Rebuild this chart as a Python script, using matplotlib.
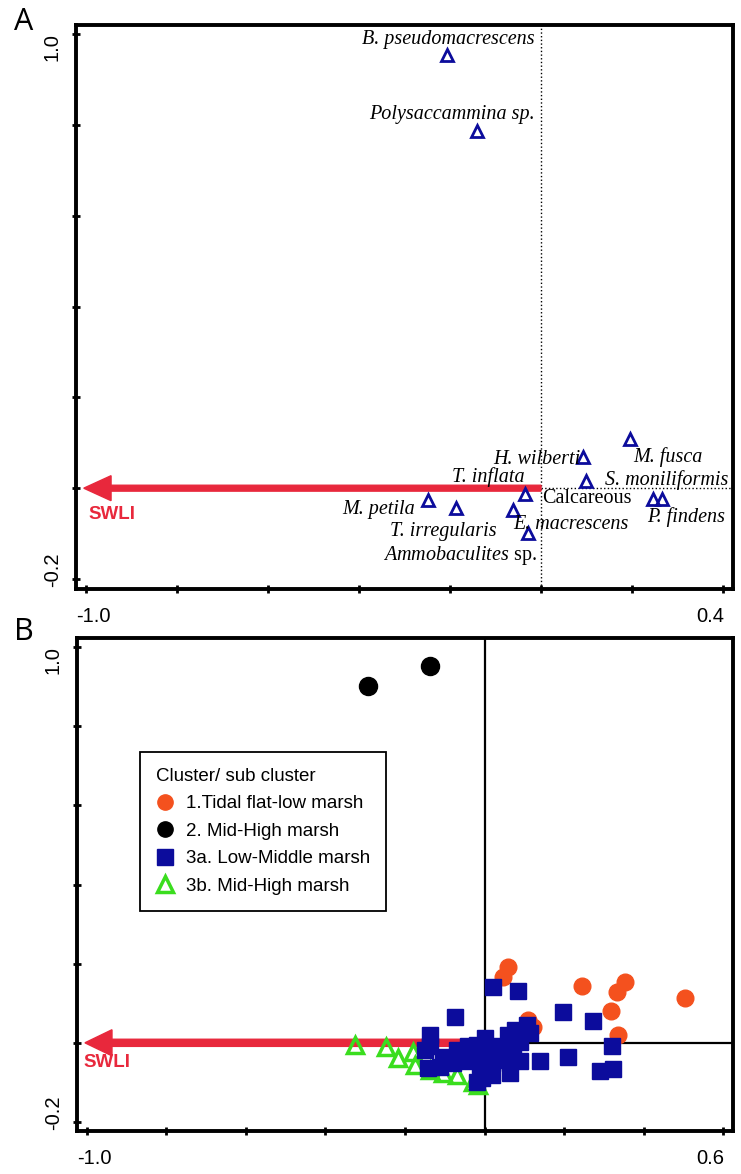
import numpy as np
import matplotlib
matplotlib.use('Agg')
import matplotlib.pyplot as plt
from matplotlib.lines import Line2D

plt.rcParams['font.family'] = 'Liberation Sans'
plt.rcParams['mathtext.fontset'] = 'custom'
plt.rcParams['mathtext.rm'] = 'Liberation Serif'
plt.rcParams['mathtext.it'] = 'Liberation Serif:italic'

# ---- panel A : species scores ----
sp_x = [-0.207, -0.141, 0.092, 0.196, 0.099, -0.035, -0.248, -0.187, -0.062, -0.029, 0.246, 0.266]
sp_y = [0.954, 0.786, 0.068, 0.108, 0.015, -0.013, -0.026, -0.044, -0.048, -0.099, -0.024, -0.024]

lab_text = ['B. pseudomacrescens', 'Polysaccammina sp.', 'H. wilberti', 'M. fusca', 'T. inflata',
            'S. moniliformis', 'Calcareous', 'M. petila', 'E. macrescens', 'P. findens',
            'T. irregularis', r'$\mathit{Ammobaculites}$ sp.']
lab_x = [-0.013, -0.013, 0.086, 0.202, -0.037, 0.141, 0.002, -0.277, -0.062, 0.233, -0.097, -0.009]
lab_y = [0.987, 0.824, 0.064, 0.068, 0.024, 0.018, -0.022, -0.048, -0.079, -0.064, -0.095, -0.148]
lab_ha = ['right', 'right', 'right', 'left', 'right', 'left', 'left', 'right', 'left', 'left', 'right', 'right']
lab_style = ['italic'] * 6 + ['normal'] + ['italic'] * 4 + ['normal']

# ---- panel B : sample scores by cluster ----
c1_x = [0.059, 0.047, 0.245, 0.353, 0.333, 0.504, 0.318, 0.336, 0.122, 0.109]
c1_y = [0.192, 0.167, 0.144, 0.154, 0.129, 0.114, 0.081, 0.020, 0.040, 0.058]

c2_x = [-0.293, -0.137]
c2_y = [0.902, 0.952]

c3a_x = [0.022, 0.085, -0.074, 0.198, 0.274, 0.320, 0.140, 0.211, 0.291, 0.324,
         0.106, -0.137, -0.137, -0.141, -0.104, -0.070, -0.041, -0.020, 0.001, 0.031,
         0.060, 0.077, 0.089, 0.072, 0.056, 0.089, 0.018, -0.011, -0.045, -0.078,
         0.018, -0.007, 0.064, -0.112, -0.028, 0.039, 0.001, -0.020, 0.114, -0.150]
c3a_y = [0.141, 0.130, 0.066, 0.079, 0.054, -0.009, -0.047, -0.036, -0.072, -0.066,
         0.045, 0.020, -0.009, -0.064, -0.035, -0.018, -0.009, -0.005, -0.018, -0.009,
         0.020, 0.033, 0.003, -0.018, -0.043, -0.047, -0.051, -0.056, -0.047, -0.051,
         -0.081, -0.089, -0.077, -0.060, -0.026, -0.035, 0.012, -0.098, 0.024, -0.018]

c3b_x = [-0.326, -0.248, -0.218, -0.180, -0.175, -0.104, -0.069, -0.029, -0.016, -0.137]
c3b_y = [-0.005, -0.010, -0.038, -0.023, -0.056, -0.076, -0.081, -0.098, -0.106, -0.068]

legend_labels = ['1.Tidal flat-low marsh', '2. Mid-High marsh', '3a. Low-Middle marsh', '3b. Mid-High marsh']

RED = '#E8283C'
NAVY = '#0C0C9C'
ORANGE = '#F4511E'
GREEN = '#3ADD1E'


def frame(ax, xticks, xl, yl):
    for s in ax.spines.values():
        s.set_linewidth(2.8)
    ax.set_xticks(xticks)
    ax.set_yticks(np.arange(-0.2, 1.01, 0.2))
    ax.set_xticklabels([])
    ax.set_yticklabels([])
    ax.tick_params(direction='inout', length=6, width=2, top=False, right=False)
    ax.set_xlim(*xl)
    ax.set_ylim(*yl)
    fs = 14.5
    ax.annotate(f'{xticks[0]:.1f}', xy=(xticks[0], 0), xycoords=('data', 'axes fraction'),
                xytext=(-7, -20), textcoords='offset points', ha='left', va='center', fontsize=fs)
    ax.annotate(f'{xticks[-1]:.1f}', xy=(xticks[-1], 0), xycoords=('data', 'axes fraction'),
                xytext=(1, -20), textcoords='offset points', ha='right', va='center', fontsize=fs)
    ax.annotate('1.0', xy=(0, 1.0), xycoords=('axes fraction', 'data'),
                xytext=(-17, 1), textcoords='offset points', ha='center', va='top',
                rotation=90, fontsize=fs)
    ax.annotate('-0.2', xy=(0, -0.2), xycoords=('axes fraction', 'data'),
                xytext=(-17, -6), textcoords='offset points', ha='center', va='bottom',
                rotation=90, fontsize=fs)


fig = plt.figure(figsize=(7.41, 11.74), dpi=100)

# ----- A -----
axA = fig.add_axes([0.1026, 0.4983, 0.8866, 0.4804])
frame(axA, np.round(np.arange(-1.0, 0.41, 0.2), 1), (-1.022, 0.422), (-0.222, 1.02))
axA.axvline(0, color='black', lw=1.0, ls=':', zorder=1)
axA.plot([0, 0.422], [0, 0], color='black', lw=1.0, ls=':', zorder=1)
axA.arrow(0, 0, -1.005, 0, width=0.013, head_width=0.055, head_length=0.06,
          length_includes_head=True, color=RED, zorder=2)
axA.text(-0.943, -0.057, 'SWLI', color=RED, fontsize=13.5, fontweight='bold', ha='center', va='center')
axA.plot(sp_x, sp_y, ls='none', marker='^', ms=9, mfc='none', mec=NAVY, mew=2, zorder=3)
for t, x, y, ha, st in zip(lab_text, lab_x, lab_y, lab_ha, lab_style):
    axA.text(x, y, t, ha=ha, va='center', fontsize=14.5, style=st, family='Liberation Serif')

fig.text(0.032, 0.981, 'A', fontsize=22, ha='center', va='center', family='Open Sans')

# ----- B -----
axB = fig.add_axes([0.1039, 0.0366, 0.8853, 0.4199])
frame(axB, np.round(np.arange(-1.0, 0.61, 0.2), 1), (-1.025, 0.625), (-0.223, 1.023))
axB.axvline(0, color='black', lw=1.6, zorder=1)
axB.plot([0, 0.625], [0, 0], color='black', lw=1.6, zorder=1)
axB.arrow(0, 0, -1.005, 0, width=0.018, head_width=0.066, head_length=0.068,
          length_includes_head=True, color=RED, zorder=2)
axB.text(-0.950, -0.050, 'SWLI', color=RED, fontsize=13.5, fontweight='bold', ha='center', va='center')

axB.plot(c3b_x, c3b_y, ls='none', marker='^', ms=11, mfc='none', mec=GREEN, mew=2.5, zorder=3)
axB.plot(c1_x, c1_y, ls='none', marker='o', ms=12, mfc=ORANGE, mec=ORANGE, zorder=4)
axB.plot(c3a_x, c3a_y, ls='none', marker='s', ms=11.5, mfc=NAVY, mec=NAVY, zorder=5)
axB.plot(c2_x, c2_y, ls='none', marker='o', ms=13, mfc='black', mec='black', zorder=5)

handles = [
    Line2D([], [], ls='none', marker='o', ms=11, mfc=ORANGE, mec=ORANGE),
    Line2D([], [], ls='none', marker='o', ms=11, mfc='black', mec='black'),
    Line2D([], [], ls='none', marker='s', ms=11, mfc=NAVY, mec=NAVY),
    Line2D([], [], ls='none', marker='^', ms=11, mfc='none', mec=GREEN, mew=2.5),
]
leg = axB.legend(handles, legend_labels, title='Cluster/ sub cluster', loc='upper left',
                 bbox_to_anchor=(0.096, 0.769), borderaxespad=0, fontsize=13.5,
                 title_fontsize=13.5, frameon=True, fancybox=False, edgecolor='black',
                 framealpha=1, handlelength=1.0, handletextpad=0.6, labelspacing=0.55,
                 borderpad=0.85, alignment='left')
leg.get_frame().set_linewidth(1.3)

fig.text(0.032, 0.462, 'B', fontsize=22, ha='center', va='center', family='Open Sans')

fig.savefig('out.png', dpi=100)
